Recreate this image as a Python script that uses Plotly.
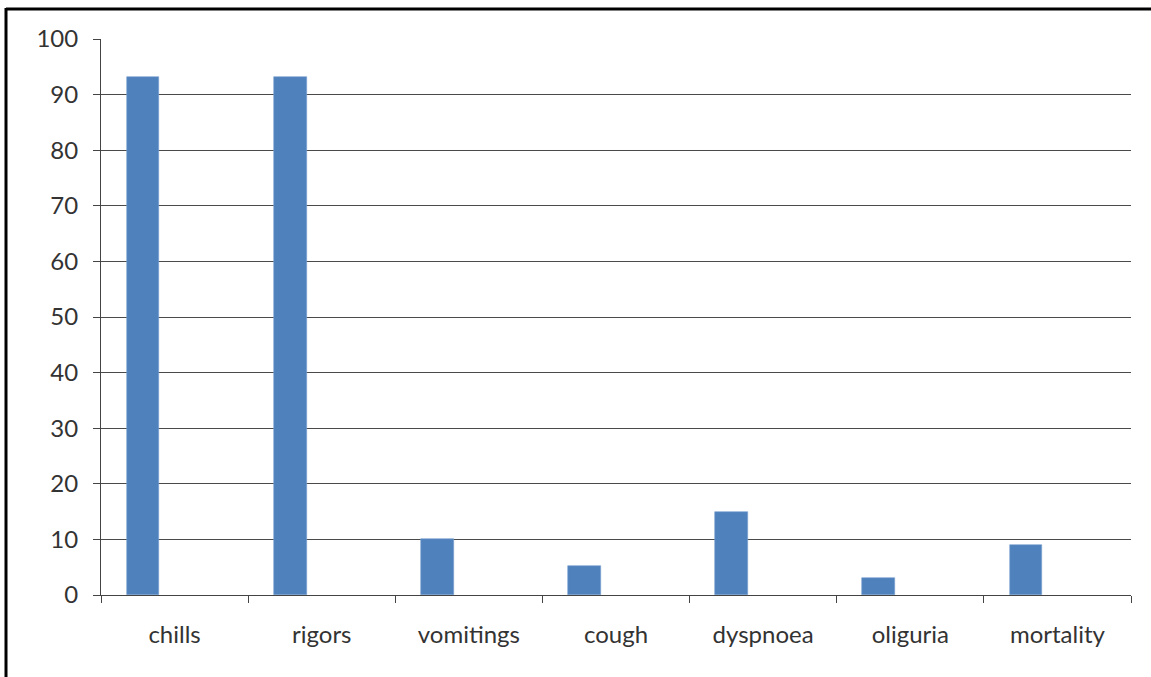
import plotly.graph_objects as go

# Symptom frequencies (%)
symptoms = ["chills", "rigors", "vomitings", "cough", "dyspnoea", "oliguria", "mortality"]
percent = [93.2, 93.2, 10, 5.2, 15, 3.1, 9]

y_ticks = list(range(0, 101, 10))

W, H = 1151, 677
ML, MR, MT, MB = 101, 20, 39, 82
pw = W - ML - MR
ph = H - MT - MB

fig = go.Figure(
    go.Bar(
        x=symptoms,
        y=percent,
        width=0.222,
        offset=-0.325,
        marker=dict(color="#4f81bd", line=dict(color="#7ba0d0", width=0.6)),
        hoverinfo="x+y",
    )
)

font = dict(family="Lato, 'Open Sans', sans-serif", size=24, color="#333333")

fig.update_layout(
    width=W,
    height=H,
    margin=dict(l=ML, r=MR, t=MT, b=MB),
    paper_bgcolor="white",
    plot_bgcolor="white",
    showlegend=False,
    font=font,
    bargap=0,
    xaxis=dict(
        type="category",
        tickson="boundaries",
        ticks="outside",
        ticklen=7,
        tickcolor="#444",
        tickwidth=1,
        showline=True,
        linecolor="#444",
        linewidth=1,
        showgrid=False,
        tickfont=font,
        ticklabelstandoff=18,
        range=[-0.5, len(symptoms) - 0.5],
    ),
    yaxis=dict(
        range=[0, 100],
        tickvals=y_ticks,
        ticks="outside",
        ticklen=7,
        tickcolor="#444",
        tickwidth=1,
        showline=True,
        linecolor="#444",
        linewidth=1,
        showgrid=True,
        gridcolor="#4a4a4a",
        gridwidth=1,
        zeroline=False,
        tickfont=font,
        ticklabelstandoff=10,
    ),
    shapes=[
        # frame edges at top and left of the chart area
        dict(type="line", xref="paper", yref="paper",
             x0=(6 - ML) / pw, x1=(W - ML + 5) / pw,
             y0=1 + (MT - 9) / ph, y1=1 + (MT - 9) / ph,
             line=dict(color="black", width=3)),
        dict(type="line", xref="paper", yref="paper",
             x0=(6 - ML) / pw, x1=(6 - ML) / pw,
             y0=1 + (MT - 8) / ph, y1=-(MB + 5) / ph,
             line=dict(color="black", width=3)),
    ],
)

fig.write_html("out.html")
